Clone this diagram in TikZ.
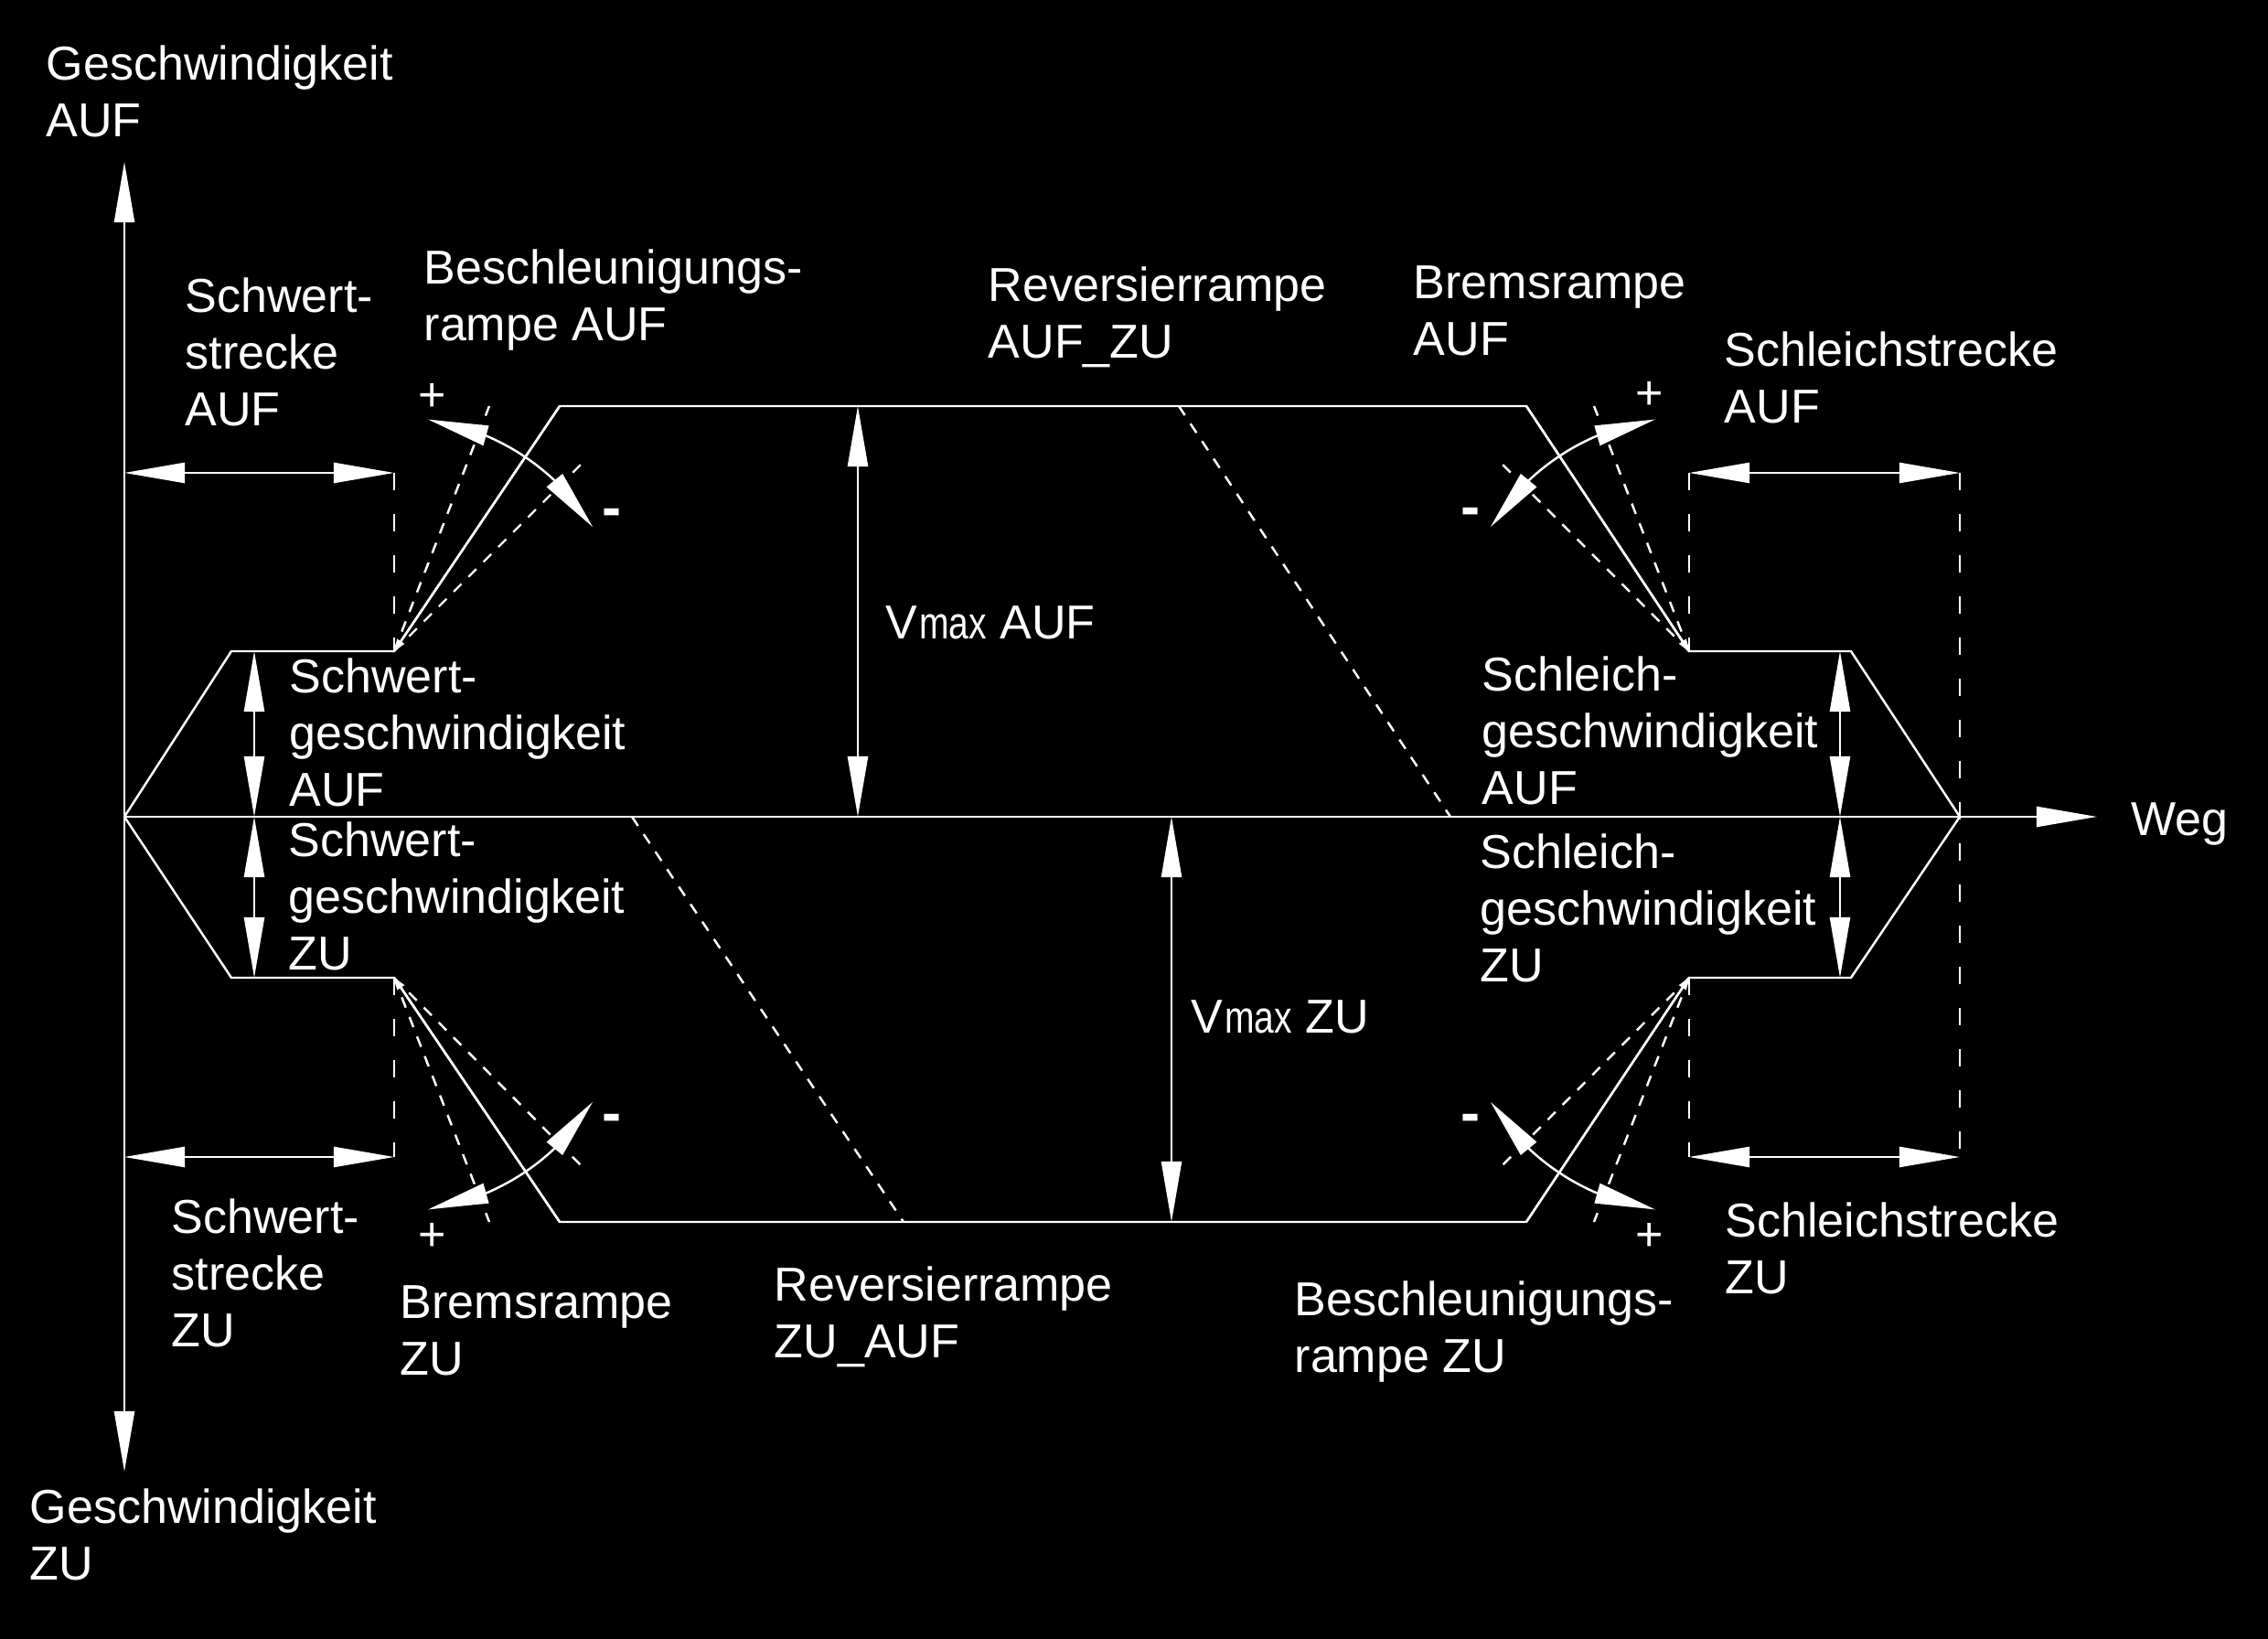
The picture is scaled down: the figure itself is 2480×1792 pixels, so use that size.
\documentclass[tikz,border=0pt]{standalone}
\usepackage{fontspec}
\setmainfont{Liberation Sans}
\usepackage{graphicx}
\usetikzlibrary{arrows.meta,bending}
\begin{document}
\begin{tikzpicture}[x=0.01cm,y=-0.01cm,
  bigtip/.tip={Triangle[length=0.66cm,width=0.22cm]},
  smalltip/.tip={Triangle[length=0.13cm,width=0.09cm]},
  ln/.style={draw=white,line width=0.7pt,line join=miter},
  dimarrow/.style={ln,{bigtip}-{bigtip}},
  axisarrow/.style={ln,-{bigtip}},
  vdash/.style={ln,dash pattern=on 0.19cm off 0.26cm},
  ddash/.style={ln,dash pattern=on 0.12cm off 0.11cm},
  cornerarrow/.style={ln,-{smalltip}},
  lbl/.style={text=white,anchor=north west,inner sep=0pt,align=left,yshift=12.32pt,
    font=\fontsize{14.8pt}{17.6pt}\selectfont},
  sgn/.style={text=white,anchor=center,inner sep=0pt,font=\fontsize{14.8pt}{17.6pt}\selectfont},
  msgn/.style={text=white,anchor=center,inner sep=0pt,font=\fontsize{18pt}{18pt}\selectfont\bfseries}]
\fill[black] (0,0) rectangle (2480,1792);
\useasboundingbox (0,0) rectangle (2480,1792);

% key points
\coordinate (O) at (136,893);
\coordinate (Ytop) at (136,177);
\coordinate (Ybot) at (136,1609);
\coordinate (Xend) at (2293,893);
\coordinate (E) at (2143,893);
\coordinate (A1) at (253,712);
\coordinate (A2) at (431,712);
\coordinate (A3) at (612,444);
\coordinate (A4) at (1669,444);
\coordinate (A5) at (1847,712);
\coordinate (A6) at (2024,712);
\coordinate (B1) at (253,1069);
\coordinate (B2) at (431,1069);
\coordinate (B3) at (612,1336);
\coordinate (B4) at (1669,1336);
\coordinate (B5) at (1847,1069);
\coordinate (B6) at (2024,1069);

% axes
\draw[ln,{bigtip}-{bigtip}] (Ybot) -- (Ytop);
\draw[axisarrow] (O) -- (Xend);

% velocity profiles
\draw[ln] (O) -- (A1) -- (A2) -- (A3) -- (A4) -- (A5) -- (A6) -- (E);
\draw[ln] (O) -- (B1) -- (B2) -- (B3) -- (B4) -- (B5) -- (B6) -- (E);
\draw[cornerarrow] (A3) -- (A2);
\draw[cornerarrow] (A4) -- (A5);
\draw[cornerarrow] (B3) -- (B2);
\draw[cornerarrow] (B4) -- (B5);

% dimension lines (distances)
\coordinate (SAl) at (136,517);  \coordinate (SAr) at (431,517);
\coordinate (SZl) at (136,1265); \coordinate (SZr) at (431,1265);
\coordinate (LAl) at (1847,517); \coordinate (LAr) at (2143,517);
\coordinate (LZl) at (1847,1265);\coordinate (LZr) at (2143,1265);
\draw[dimarrow] (SAl) -- (SAr);
\draw[dimarrow] (SZl) -- (SZr);
\draw[dimarrow] (LAl) -- (LAr);
\draw[dimarrow] (LZl) -- (LZr);
\draw[vdash] (SAr) -- (A2);
\draw[vdash] (B2) -- (SZr);
\draw[vdash] (LAl) -- (A5);
\draw[vdash] (B5) -- (LZl);
\draw[vdash] (LAr) -- (LZr);

% dimension lines (speeds)
\coordinate (sw1) at (278,712);  \coordinate (sw0) at (278,893);  \coordinate (sw2) at (278,1069);
\coordinate (vm1) at (938,444);  \coordinate (vm0) at (938,893);
\coordinate (vz0) at (1281,893); \coordinate (vz1) at (1281,1336);
\coordinate (sl1) at (2012,712); \coordinate (sl0) at (2012,893); \coordinate (sl2) at (2012,1069);
\draw[dimarrow] (sw1) -- (sw0);
\draw[dimarrow] (sw0) -- (sw2);
\draw[dimarrow] (vm1) -- (vm0);
\draw[dimarrow] (vz0) -- (vz1);
\draw[dimarrow] (sl1) -- (sl0);
\draw[dimarrow] (sl0) -- (sl2);

% reversing ramps
\coordinate (RA1) at (1289,444); \coordinate (RA2) at (1586,893);
\coordinate (RZ1) at (691,893);  \coordinate (RZ2) at (988,1336);
\draw[ddash] (RA1) -- (RA2);
\draw[ddash] (RZ1) -- (RZ2);

% ramp variations
\coordinate (ulS) at (535,444);  \coordinate (ulF) at (636,507);
\coordinate (urS) at (1743,444); \coordinate (urF) at (1642,507);
\coordinate (llS) at (535,1336); \coordinate (llF) at (636,1275);
\coordinate (lrS) at (1743,1336);\coordinate (lrF) at (1642,1275);
\draw[ddash] (A2) -- (ulS);
\draw[ddash] (A2) -- (ulF);
\draw[ddash] (A5) -- (urS);
\draw[ddash] (A5) -- (urF);
\draw[ddash] (B2) -- (llS);
\draw[ddash] (B2) -- (llF);
\draw[ddash] (B5) -- (lrS);
\draw[ddash] (B5) -- (lrF);

% arcs
\draw[ln,{bigtip}-{bigtip}] (A2) ++(81.7:2.56cm) arc[start angle=81.7,end angle=32,radius=2.56cm];
\draw[ln,{bigtip}-{bigtip}] (A5) ++(98.3:2.56cm) arc[start angle=98.3,end angle=148,radius=2.56cm];
\draw[ln,{bigtip}-{bigtip}] (B2) ++(-81.7:2.56cm) arc[start angle=-81.7,end angle=-32,radius=2.56cm];
\draw[ln,{bigtip}-{bigtip}] (B5) ++(-98.3:2.56cm) arc[start angle=-98.3,end angle=-148,radius=2.56cm];

% signs
\node[sgn] (p1) at (473,434) {+};
\node[msgn] (m1) at (669,566) {-};
\node[sgn] (p2) at (1804,432) {+};
\node[msgn] (m2) at (1608,565) {-};
\node[msgn] (m3) at (669,1228) {-};
\node[sgn] (p3) at (473,1352) {+};
\node[msgn] (m4) at (1608,1228) {-};
\node[sgn] (p4) at (1804,1352) {+};

% labels
\node[lbl] (t1) at (50,87) {\strut Geschwindigkeit\\AUF};
\node[lbl] (t2) at (202,341) {\strut Schwert-\\strecke\\AUF};
\node[lbl] (t3) at (463,310) {\strut Beschleunigungs-\\rampe AUF};
\node[lbl] (t4) at (1080,329) {\strut Reversierrampe\\AUF\_ZU};
\node[lbl] (t5) at (1545,326) {\strut Bremsrampe\\AUF};
\node[lbl] (t6) at (1885,400) {\strut Schleichstrecke\\AUF};
\node[lbl] (t7) at (316,757) {\strut Schwert-\\geschwindigkeit\\AUF};
\node[lbl] (t8) at (1620,755) {\strut Schleich-\\geschwindigkeit\\AUF};
\node[lbl] (t9) at (2330,913) {\strut Weg};
\node[lbl] (t10) at (315,936) {\strut Schwert-\\geschwindigkeit\\ZU};
\node[lbl] (t11) at (1618,949) {\strut Schleich-\\geschwindigkeit\\ZU};
\node[lbl] (t12) at (968,698) {\strut V\hspace{0.02cm}\scalebox{0.75}[0.95]{max} AUF};
\node[lbl] (t13) at (1302,1129) {\strut V\hspace{0.02cm}\scalebox{0.75}[0.95]{max} ZU};
\node[lbl] (t14) at (187,1348) {\strut Schwert-\\strecke\\ZU};
\node[lbl] (t15) at (437,1441) {\strut Bremsrampe\\ZU};
\node[lbl] (t16) at (846,1422) {\strut Reversierrampe\\ZU\_AUF};
\node[lbl] (t17) at (1415,1438) {\strut Beschleunigungs-\\rampe ZU};
\node[lbl] (t18) at (1886,1352) {\strut Schleichstrecke\\ZU};
\node[lbl] (t19) at (32,1665) {\strut Geschwindigkeit\\ZU};
\end{tikzpicture}
\end{document}
